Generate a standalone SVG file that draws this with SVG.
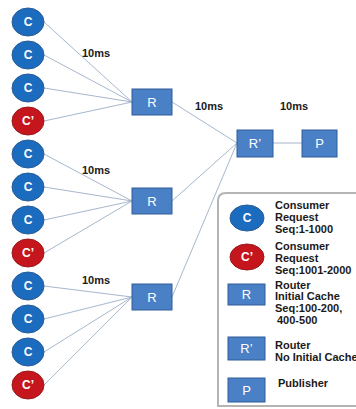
<svg xmlns="http://www.w3.org/2000/svg" width="356" height="409" viewBox="0 0 356 409">
<style>
.c{fill:#1b6cbf;stroke:#2a5d96;stroke-width:1}
.cp{fill:#c4161c;stroke:#9a1a1e;stroke-width:1}
.r{fill:#4a80c6;stroke:#2e5c98;stroke-width:1}
.lt{font-family:"Liberation Sans",Arial,sans-serif;font-size:12px;font-weight:bold;fill:#ffffff;text-anchor:middle;dominant-baseline:central}
.rt{font-family:"Liberation Sans",Arial,sans-serif;font-size:13px;fill:#ffffff;text-anchor:middle;dominant-baseline:central}
.lb{font-family:"Liberation Sans",Arial,sans-serif;font-size:11px;font-weight:bold;fill:#1a1a1a}
.ln{stroke:#a6b8cc;stroke-width:1;fill:none}
</style>
<rect width="356" height="409" fill="#ffffff"/>
<g id="connectors">
<line class="ln" x1="44" y1="22" x2="132" y2="102"/>
<line class="ln" x1="44" y1="55" x2="132" y2="102"/>
<line class="ln" x1="44" y1="88" x2="132" y2="102"/>
<line class="ln" x1="44" y1="121" x2="132" y2="102"/>
<line class="ln" x1="44" y1="154" x2="132" y2="201"/>
<line class="ln" x1="44" y1="187" x2="132" y2="201"/>
<line class="ln" x1="44" y1="220" x2="132" y2="201"/>
<line class="ln" x1="44" y1="253" x2="132" y2="201"/>
<line class="ln" x1="44" y1="286" x2="132" y2="297"/>
<line class="ln" x1="44" y1="319" x2="132" y2="297"/>
<line class="ln" x1="44" y1="352" x2="132" y2="297"/>
<line class="ln" x1="44" y1="385" x2="132" y2="297"/>
<line class="ln" x1="172" y1="102" x2="237" y2="143"/>
<line class="ln" x1="172" y1="201" x2="237" y2="143"/>
<line class="ln" x1="172" y1="297" x2="237" y2="143"/>
<line class="ln" x1="273" y1="143" x2="302" y2="143"/>
</g>
<g id="labels">
<text class="lb" x="82" y="57">10ms</text>
<text class="lb" x="82" y="174">10ms</text>
<text class="lb" x="82" y="284">10ms</text>
<text class="lb" x="195" y="110">10ms</text>
<text class="lb" x="280" y="110">10ms</text>
</g>
<g id="c1"><ellipse class="c" cx="28" cy="22" rx="16" ry="14"/><text class="lt" x="28" y="22">C</text></g>
<g id="c2"><ellipse class="c" cx="28" cy="55" rx="16" ry="14"/><text class="lt" x="28" y="55">C</text></g>
<g id="c3"><ellipse class="c" cx="28" cy="88" rx="16" ry="14"/><text class="lt" x="28" y="88">C</text></g>
<g id="c4"><ellipse class="cp" cx="28" cy="121" rx="16" ry="14"/><text class="lt" x="28" y="121">C’</text></g>
<g id="c5"><ellipse class="c" cx="28" cy="154" rx="16" ry="14"/><text class="lt" x="28" y="154">C</text></g>
<g id="c6"><ellipse class="c" cx="28" cy="187" rx="16" ry="14"/><text class="lt" x="28" y="187">C</text></g>
<g id="c7"><ellipse class="c" cx="28" cy="220" rx="16" ry="14"/><text class="lt" x="28" y="220">C</text></g>
<g id="c8"><ellipse class="cp" cx="28" cy="253" rx="16" ry="14"/><text class="lt" x="28" y="253">C’</text></g>
<g id="c9"><ellipse class="c" cx="28" cy="286" rx="16" ry="14"/><text class="lt" x="28" y="286">C</text></g>
<g id="c10"><ellipse class="c" cx="28" cy="319" rx="16" ry="14"/><text class="lt" x="28" y="319">C</text></g>
<g id="c11"><ellipse class="c" cx="28" cy="352" rx="16" ry="14"/><text class="lt" x="28" y="352">C</text></g>
<g id="c12"><ellipse class="cp" cx="28" cy="385" rx="16" ry="14"/><text class="lt" x="28" y="385">C’</text></g>
<g id="r1"><rect class="r" x="132" y="89" width="40" height="26"/><text class="rt" x="152" y="102">R</text></g>
<g id="r2"><rect class="r" x="132" y="188" width="40" height="26"/><text class="rt" x="152" y="201">R</text></g>
<g id="r3"><rect class="r" x="132" y="284" width="40" height="26"/><text class="rt" x="152" y="297">R</text></g>
<g id="rp"><rect class="r" x="237" y="130" width="36" height="27"/><text class="rt" x="255" y="143.5">R’</text></g>
<g id="p"><rect class="r" x="302" y="130" width="35" height="27"/><text class="rt" x="319.5" y="143.5">P</text></g>
<g id="legend">
<path d="M360 193 H226 Q218 193 218 201 V406 H360" fill="#ffffff" stroke="#b4b4b4" stroke-width="2"/>
<ellipse class="c" cx="247" cy="218" rx="17" ry="13"/><text class="lt" x="247" y="218">C</text>
<text class="lb" x="275"><tspan x="275" y="209">Consumer</tspan><tspan x="275" y="221">Request</tspan><tspan x="275" y="233">Seq:1-1000</tspan></text>
<ellipse class="cp" cx="247" cy="257" rx="17" ry="13"/><text class="lt" x="247" y="257">C’</text>
<text class="lb" x="275"><tspan x="275" y="250">Consumer</tspan><tspan x="275" y="262">Request</tspan><tspan x="275" y="274">Seq:1001-2000</tspan></text>
<rect class="r" x="228" y="284" width="37" height="21"/><text class="rt" x="246.5" y="294.5">R</text>
<text class="lb" x="275"><tspan x="275" y="289">Router</tspan><tspan x="275" y="300">Initial Cache</tspan><tspan x="275" y="312">Seq:100-200,</tspan><tspan x="277" y="324">400-500</tspan></text>
<rect class="r" x="228" y="337" width="37" height="23"/><text class="rt" x="246.5" y="348.5">R’</text>
<text class="lb" x="275"><tspan x="275" y="349">Router</tspan><tspan x="275" y="361">No Initial Cache</tspan></text>
<rect class="r" x="228" y="378" width="37" height="24"/><text class="rt" x="246.5" y="390">P</text>
<text class="lb" x="278" y="387">Publisher</text>
</g>
</svg>
